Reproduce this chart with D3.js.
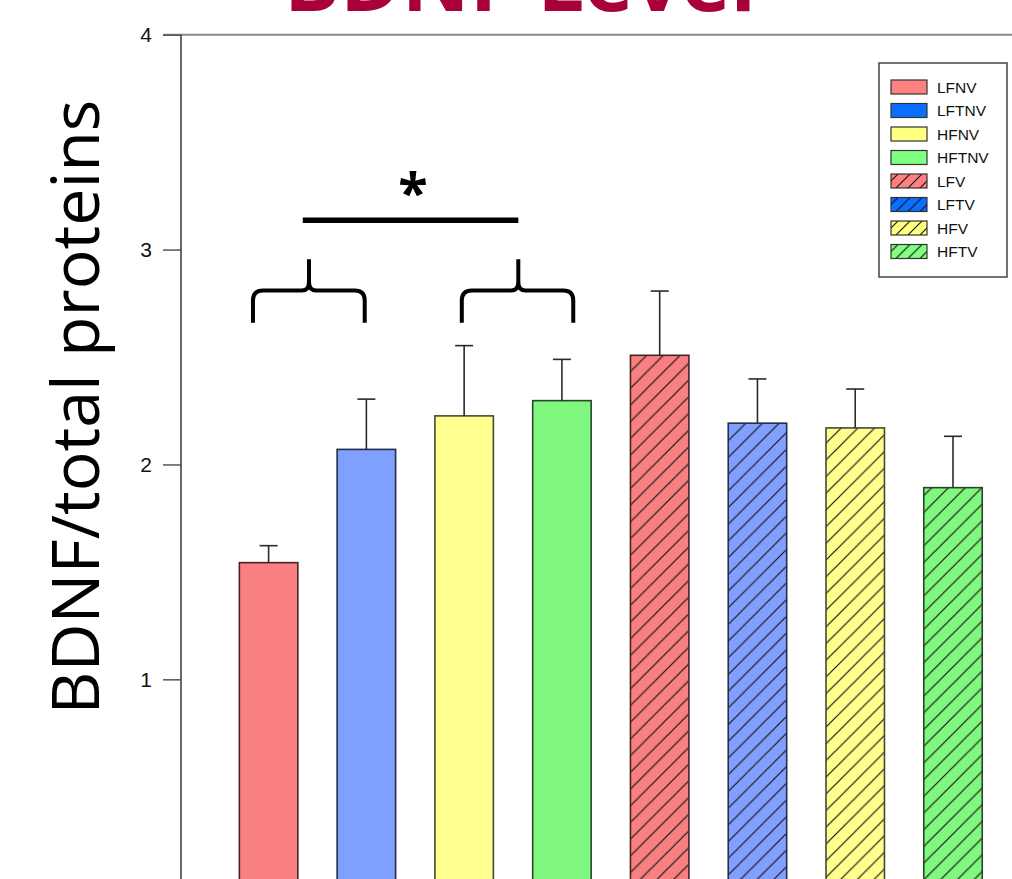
<!DOCTYPE html>
<html>
<head>
<meta charset="utf-8">
<script src="https://cdn.jsdelivr.net/npm/d3@7"></script>
<style>
  html, body { margin: 0; padding: 0; background: #fff; overflow: hidden; }
  svg { display: block; }
</style>
</head>
<body>
<svg id="chart" width="1012" height="879"></svg>
<script>
// ---- data ----
const categories = ["LFNV", "LFTNV", "HFNV", "HFTNV", "LFV", "LFTV", "HFV", "HFTV"];
const means      = [1.543, 2.070, 2.226, 2.297, 2.508, 2.192, 2.170, 1.892];
const errorTops  = [1.622, 2.304, 2.553, 2.489, 2.807, 2.398, 2.351, 2.131];
const hatched    = [false, false, false, false, true, true, true, true];
const barColors  = ["#F88080", "#80A0FF", "#FFFF90", "#80F880", "#F88080", "#80A0FF", "#FFFF90", "#80F880"];
const legendColors = ["#FF8080", "#0A6EFF", "#FFFF80", "#80FF80", "#FF8080", "#0A6EFF", "#FFFF80", "#80FF80"];
const yTicks     = [1, 2, 3, 4];
const titleText  = "BDNF Level";
const yLabel     = "BDNF/total proteins";
// significance annotation (fractional category index, value units)
const braces = [ {from: -0.16, tip: 0.413, to: 0.983}, {from: 1.976, tip: 2.554, to: 3.116} ];
const sigBar = {from: 0.349, to: 2.554, y: 3.136};
const sigStar = {at: 1.477, y: 3.305, text: "*"};
const braceLevels = {bottom: 2.66, mid: 2.809, tip: 2.955};

// ---- layout ----
const svg = d3.select("#chart");
const axisX = 181;
const y = d3.scaleLinear().domain([0, 4]).range([894.2, 34.7]);
const x = d3.scaleBand().domain(categories).range([axisX, 1040.6]).paddingInner(0.402).paddingOuter(0.597);
const bw = x.bandwidth();
const step = x.step();
const xc = f => x(categories[0]) + bw / 2 + f * step;

// patterns
const defs = svg.append("defs");
function hatchPattern(id, size, color, width) {
  const p = defs.append("pattern").attr("id", id).attr("patternUnits", "userSpaceOnUse")
    .attr("width", size).attr("height", size);
  p.append("path")
    .attr("d", `M-2,2 l4,-4 M0,${size} l${size},${-size} M${size-2},${size+2} l4,-4`)
    .attr("stroke", color).attr("stroke-width", width).attr("fill", "none");
  return p;
}
hatchPattern("hatch", 16.7, "#1a1010", 1.2);
hatchPattern("hatchLeg", 12, "#111", 1.1);

// title (cut off at top, as in the reference)
const title = svg.append("text")
  .attr("x", 284).attr("y", 11)
  .attr("font-family", "'Open Sans', sans-serif").attr("font-weight", 700)
  .attr("font-size", 80).attr("fill", "#A8003B")
  .text(titleText);
{
  const w = title.node().getComputedTextLength();
  title.attr("font-size", 80 * 472 / w);
}

// y label
const yl = svg.append("text")
  .attr("transform", `translate(99,407) rotate(-90)`)
  .attr("text-anchor", "middle")
  .attr("font-family", "'Open Sans', sans-serif")
  .attr("font-size", 64).attr("fill", "#000")
  .text(yLabel);
{
  const w = yl.node().getComputedTextLength();
  yl.attr("font-size", 64 * 615 / w);
}

// top frame line
svg.append("line").attr("x1", 163).attr("x2", 1012).attr("y1", y(4)).attr("y2", y(4))
  .attr("stroke", "#8a8a8a").attr("stroke-width", 2);

// y axis
const yAxis = d3.axisLeft(y).tickValues(yTicks).tickSize(18).tickPadding(11).tickFormat(d3.format("d"));
const ga = svg.append("g").attr("transform", `translate(${axisX},0)`).call(yAxis);
ga.select(".domain").remove();
ga.selectAll(".tick line").attr("stroke", "#555").attr("stroke-width", 1.5);
ga.selectAll(".tick text").attr("font-family", "'Liberation Sans', Arial, sans-serif")
  .attr("font-size", 21).attr("fill", "#111");
svg.append("line").attr("x1", axisX).attr("x2", axisX).attr("y1", y(4)).attr("y2", 879)
  .attr("stroke", "#444").attr("stroke-width", 1.6);

// bars
const data = categories.map((c, i) => ({c, m: means[i], e: errorTops[i], h: hatched[i], col: barColors[i]}));
const bars = svg.append("g");
bars.selectAll("rect.fill").data(data).join("rect")
  .attr("x", d => x(d.c)).attr("width", bw)
  .attr("y", d => y(d.m)).attr("height", d => y(0) - y(d.m))
  .attr("fill", d => d.col);
bars.selectAll("rect.hatch").data(data.filter(d => d.h)).join("rect")
  .attr("x", d => x(d.c)).attr("width", bw)
  .attr("y", d => y(d.m)).attr("height", d => y(0) - y(d.m))
  .attr("fill", "url(#hatch)");
bars.selectAll("rect.border").data(data).join("rect")
  .attr("x", d => x(d.c)).attr("width", bw)
  .attr("y", d => y(d.m)).attr("height", d => y(0) - y(d.m))
  .attr("fill", "none")
  .attr("stroke", d => d3.color(d.col).darker(3.5)).attr("stroke-width", 1.6);

// error bars
const eb = svg.append("g").attr("stroke", "#2a2a2a").attr("stroke-width", 1.6);
eb.selectAll("line.stem").data(data).join("line")
  .attr("x1", d => x(d.c) + bw / 2).attr("x2", d => x(d.c) + bw / 2)
  .attr("y1", d => y(d.m)).attr("y2", d => y(d.e));
eb.selectAll("line.cap").data(data).join("line")
  .attr("x1", d => x(d.c) + bw / 2 - 9).attr("x2", d => x(d.c) + bw / 2 + 9)
  .attr("y1", d => y(d.e)).attr("y2", d => y(d.e));

// significance annotation
const ann = svg.append("g");
braces.forEach(b => {
  const x0 = xc(b.from), x1 = xc(b.to), xt = xc(b.tip);
  const yb = y(braceLevels.bottom), ym = y(braceLevels.mid), yt = y(braceLevels.tip);
  const r = 10;
  const d = `M${x0},${yb} V${ym + r} Q${x0},${ym} ${x0 + r},${ym} H${xt - 7} Q${xt},${ym} ${xt},${ym - 9} V${yt}` +
            ` M${xt},${yt} V${ym - 9} Q${xt},${ym} ${xt + 7},${ym} H${x1 - r} Q${x1},${ym} ${x1},${ym + r} V${yb}`;
  ann.append("path").attr("d", d).attr("fill", "none").attr("stroke", "#000")
    .attr("stroke-width", 4).attr("stroke-linejoin", "round");
});
ann.append("line").attr("x1", xc(sigBar.from)).attr("x2", xc(sigBar.to))
  .attr("y1", y(sigBar.y)).attr("y2", y(sigBar.y)).attr("stroke", "#000").attr("stroke-width", 5.5);
ann.append("text").attr("x", xc(sigStar.at)).attr("y", y(sigStar.y) + 28)
  .attr("text-anchor", "middle").attr("font-family", "'Open Sans', sans-serif")
  .attr("font-size", 54).attr("font-weight", 700).attr("fill", "#000").text(sigStar.text);

// legend
const leg = svg.append("g");
leg.append("rect").attr("x", 879).attr("y", 63).attr("width", 128).attr("height", 214)
  .attr("fill", "#fff").attr("stroke", "#444").attr("stroke-width", 1.5);
const li = leg.selectAll("g.item").data(categories).join("g")
  .attr("transform", (d, i) => `translate(891,${87 + i * 23.5})`);
li.append("rect").attr("x", 0).attr("y", -7).attr("width", 36).attr("height", 14)
  .attr("fill", (d, i) => legendColors[i]);
li.filter((d, i) => hatched[i]).append("rect").attr("x", 0).attr("y", -7).attr("width", 36).attr("height", 14)
  .attr("fill", "url(#hatchLeg)");
li.append("rect").attr("x", 0).attr("y", -7).attr("width", 36).attr("height", 14)
  .attr("fill", "none").attr("stroke", "#333").attr("stroke-width", 1.2);
li.append("text").attr("x", 46).attr("y", 0).attr("dy", "0.36em")
  .attr("font-family", "'Liberation Sans', Arial, sans-serif").attr("font-size", 15.5).attr("fill", "#111")
  .text(d => d);
</script>
</body>
</html>
